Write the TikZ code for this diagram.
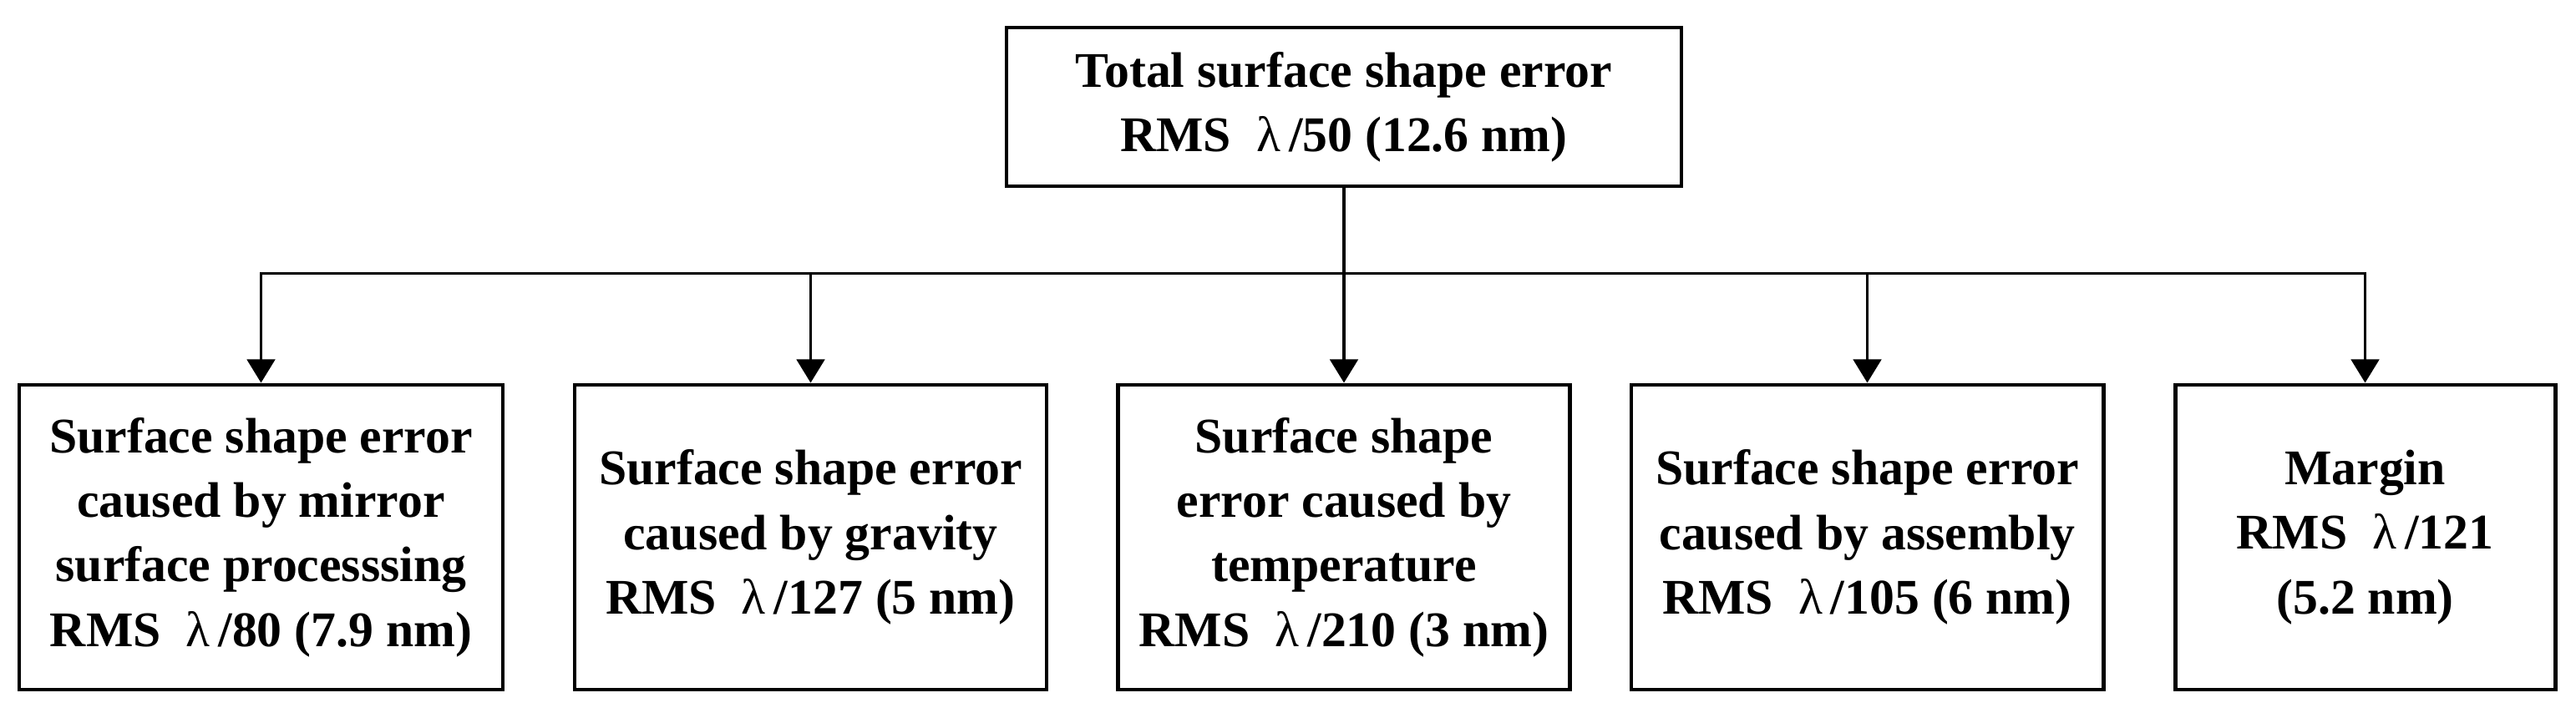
\documentclass[tikz,border=0pt]{standalone}
\usepackage{fontspec}
\setmainfont{Liberation Serif}
\usetikzlibrary{arrows.meta}

\begin{document}
\begin{tikzpicture}[
    box/.style={draw, line width=1.4pt, align=center, inner sep=0pt,
      font=\bfseries\fontsize{17}{22}\selectfont},
    leaf/.style={box, minimum height=3.65cm},
    conn/.style={line width=1.1pt, -{Triangle[width=9.5pt,length=8pt]}}
  ]
        \useasboundingbox (0,0) rectangle (30.84,8.65);

        \node[box, minimum width=8.08cm, minimum height=1.90cm] (total) at (16.09,7.37)
          {Total surface shape error\\RMS~~{\mdseries λ}\,/50 (12.6 nm)};

        \node[leaf, minimum width=5.79cm] (proc) at (3.125,2.215)
          {Surface shape error\\caused by mirror\\surface processsing\\RMS~~{\mdseries λ}\,/80 (7.9 nm)};
        \node[leaf, minimum width=5.65cm] (grav) at (9.705,2.215)
          {Surface shape error\\caused by gravity\\RMS~~{\mdseries λ}\,/127 (5 nm)};
        \node[leaf, minimum width=5.41cm] (temp) at (16.09,2.215)
          {Surface shape\\error caused by\\temperature\\RMS~~{\mdseries λ}\,/210 (3 nm)};
        \node[leaf, minimum width=5.65cm] (asm) at (22.355,2.215)
          {Surface shape error\\caused by assembly\\RMS~~{\mdseries λ}\,/105 (6 nm)};
        \node[leaf, minimum width=4.55cm] (marg) at (28.315,2.215)
          {Margin\\RMS~~{\mdseries λ}\,/121\\(5.2 nm)};

        \path (total.south) ++(0,-1.02) coordinate (bus); % branch level
        \draw[conn] (total.south) -- (temp.north);
        \foreach \n in {proc,grav,asm,marg}
          \draw[conn] (bus) -| (\n.north);
\end{tikzpicture}
\end{document}
